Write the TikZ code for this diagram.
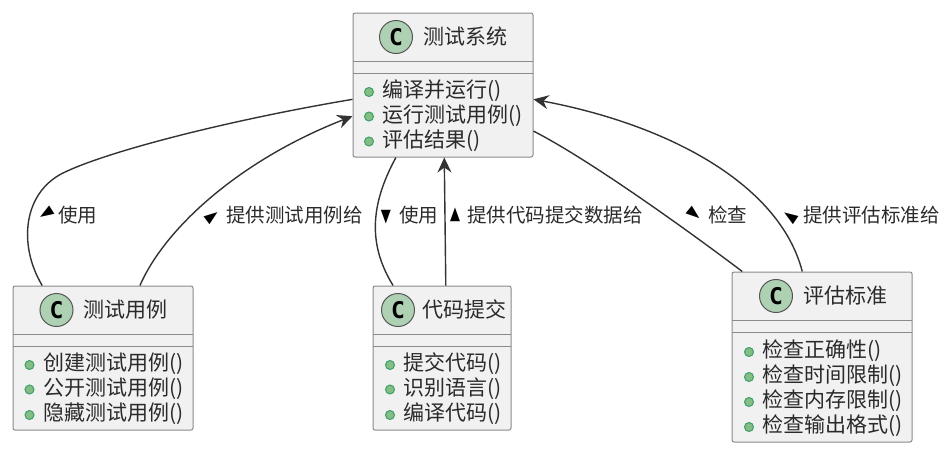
\documentclass[tikz,border=0pt]{standalone}
\usepackage{fontspec}
\setmainfont{Noto Sans CJK SC}
\newfontfamily\symfont{DejaVu Sans}
\newfontfamily\markfont{DejaVu Sans Mono}
\usetikzlibrary{arrows.meta}

\begin{document}
\begin{tikzpicture}[x=1pt,y=-1pt]

\tikzset{
  class box/.style={draw=boxline, fill=boxfill, rounded corners=2pt, line width=1pt, inner sep=0pt},
  class mark/.style={circle, draw=markline, fill=markfill, line width=1pt, minimum size=33pt, inner sep=0pt,
    font=\markfont\fontsize{23}{23}\selectfont\bfseries, text=black},
  class title/.style={anchor=west, inner sep=0pt, font=\fontsize{21}{24}\selectfont, text=textcol},
  member/.style={anchor=west, inner sep=0pt, font=\fontsize{21}{24}\selectfont, text=textcol},
  bullet/.style={circle, draw=dotline, fill=dotfill, line width=1pt, minimum size=9pt, inner sep=0pt},
  rel/.style={draw=relcol, line width=1.4pt, -{Stealth[inset=5pt,length=15pt,width=14pt]}},
  rel label/.style={anchor=west, inner sep=0pt, font=\fontsize{19.5}{22}\selectfont, text=textcol},
  dir mark/.style={inner sep=0pt, font=\symfont\fontsize{18}{18}\selectfont, text=black},
  sep/.style={draw=boxline, line width=1pt},
}
\definecolor{boxline}{HTML}{8A8A8A}
\definecolor{boxfill}{HTML}{F1F1F1}
\definecolor{markline}{HTML}{555555}
\definecolor{markfill}{HTML}{ADD1B2}
\definecolor{textcol}{HTML}{2A2A2A}
\definecolor{dotline}{HTML}{3D9E6A}
\definecolor{dotfill}{HTML}{84BE84}
\definecolor{relcol}{HTML}{333333}

\useasboundingbox (0,0) rectangle (950,453);

% Test system
\node[class box, minimum width=180pt, minimum height=144pt] (sys) at (443,85) {};
\draw[sep] (353,61) -- (533,61);
\draw[sep] (353,73) -- (533,73);
\node[class mark] (sysmark) at (396,37) {C};
\node[class title] (systitle) at (423,36.5) {测试系统};
\node[bullet] (sysdota) at (369,92) {};
\node[bullet] (sysdotb) at (369,116.5) {};
\node[bullet] (sysdotc) at (369,141.5) {};
\node[member] (sysa) at (382,91) {编译并运行()};
\node[member] (sysb) at (382,115.5) {运行测试用例()};
\node[member] (sysc) at (382,140.5) {评估结果()};

% Test cases
\node[class box, minimum width=180pt, minimum height=144pt] (case) at (103,358) {};
\draw[sep] (13,334) -- (193,334);
\draw[sep] (13,346) -- (193,346);
\node[class mark] (casemark) at (56.5,310) {C};
\node[class title] (casetitle) at (83.5,309.5) {测试用例};
\node[bullet] (casedota) at (29.5,365) {};
\node[bullet] (casedotb) at (29.5,389.5) {};
\node[bullet] (casedotc) at (29.5,415) {};
\node[member] (casea) at (43,364) {创建测试用例()};
\node[member] (caseb) at (43,388.5) {公开测试用例()};
\node[member] (casec) at (43,414) {隐藏测试用例()};

% Code submission
\node[class box, minimum width=138pt, minimum height=144pt] (code) at (442,358) {};
\draw[sep] (373,334) -- (511,334);
\draw[sep] (373,346) -- (511,346);
\node[class mark] (codemark) at (398,310) {C};
\node[class title] (codetitle) at (422,309.5) {代码提交};
\node[bullet] (codedota) at (390,365) {};
\node[bullet] (codedotb) at (390,389.5) {};
\node[bullet] (codedotc) at (390,415) {};
\node[member] (codea) at (403,364) {提交代码()};
\node[member] (codeb) at (403,388.5) {识别语言()};
\node[member] (codec) at (403,414) {编译代码()};

% Criteria
\node[class box, minimum width=180pt, minimum height=170pt] (crit) at (822,357) {};
\draw[sep] (732,320) -- (912,320);
\draw[sep] (732,332) -- (912,332);
\node[class mark] (critmark) at (776,296) {C};
\node[class title] (crittitle) at (803,295.5) {评估标准};
\node[bullet] (critdota) at (749,352) {};
\node[bullet] (critdotb) at (749,377) {};
\node[bullet] (critdotc) at (749,402) {};
\node[bullet] (critdotd) at (749,427) {};
\node[member] (crita) at (762,351) {检查正确性()};
\node[member] (critb) at (762,376) {检查时间限制()};
\node[member] (critc) at (762,401) {检查内存限制()};
\node[member] (critd) at (762,426) {检查输出格式()};

% Edges
\coordinate (bend) at (63,173);
\draw[rel, arrows=-] (case.130.3) .. controls (18,245) and (23,193) .. (bend) .. controls (108,151) and (230,120) .. (sys.189.5);
\draw[rel] (case.63.4) .. controls (165,228) and (240,160) .. (sys.199.6);
\draw[rel, arrows=-] (code.124.8) .. controls (368,245) and (370,205) .. (sys.237.6);
\draw[rel] (code.87.6) -- (sys.271.8);
\draw[rel, arrows=-] (crit.133.3) .. controls (690,232) and (590,160) .. (sys.333.4);
\draw[rel] (crit.103.2) .. controls (780,185) and (670,125) .. (sys.351);

% Edge labels
\node[dir mark, rotate=122, xscale=.72] (marka) at (46,214) {▲};
\node[rel label] (laba) at (58,215) {使用};
\node[dir mark, rotate=-53, xscale=.72] (markb) at (212,217) {▲};
\node[rel label] (labb) at (226,215) {提供测试用例给};
\node[dir mark, rotate=180, xscale=.72] (markc) at (386,217) {▲};
\node[rel label] (labc) at (399,215) {使用};
\node[dir mark, xscale=.72] (markd) at (455,215) {▲};
\node[rel label] (labd) at (467,215) {提供代码提交数据给};
\node[dir mark, rotate=-129, xscale=.72] (marke) at (694,214) {▲};
\node[rel label] (labe) at (708,215) {检查};
\node[dir mark, rotate=56, xscale=.72] (markf) at (790,217) {▲};
\node[rel label] (labf) at (803,215) {提供评估标准给};

\end{tikzpicture}
\end{document}
